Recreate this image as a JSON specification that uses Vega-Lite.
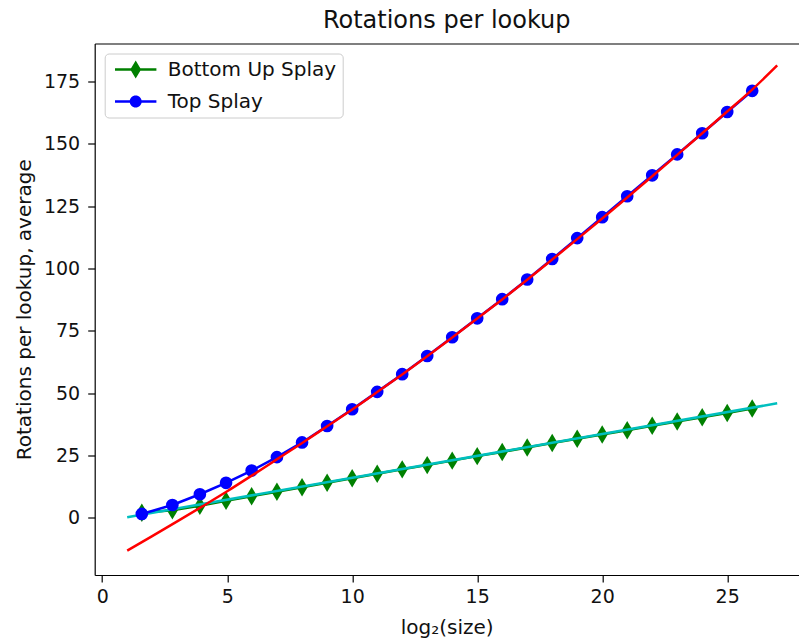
{
  "$schema": "https://vega.github.io/schema/vega-lite/v6.json",
  "autosize": "none",
  "width": 704,
  "height": 531.5,
  "padding": {"left": 94.7, "top": 43.5, "right": 0.3, "bottom": 66},
  "background": "white",
  "config": {
    "view": {"stroke": null},
    "font": "DejaVu Sans",
    "axis": {"grid": false, "domainColor": "black", "tickColor": "black", "labelColor": "#111", "titleColor": "#111", "labelFont": "DejaVu Sans", "titleFont": "DejaVu Sans", "labelFontSize": 19, "titleFontSize": 20, "titleFontWeight": "normal", "tickSize": 7, "tickWidth": 1.2, "domainWidth": 1.2}
  },
  "title": {"text": "Rotations per lookup", "fontSize": 24, "fontWeight": "normal", "font": "DejaVu Sans", "color": "#111", "offset": 11},
  "datasets": {
    "pts": [
      {"x": 1.585, "top": 1.5, "bottom": 2.0},
      {"x": 2.807, "top": 5.1, "bottom": 3.0},
      {"x": 3.907, "top": 9.4, "bottom": 4.8},
      {"x": 4.954, "top": 14.0, "bottom": 6.8},
      {"x": 5.977, "top": 18.9, "bottom": 8.6},
      {"x": 6.989, "top": 24.3, "bottom": 10.4},
      {"x": 7.994, "top": 30.2, "bottom": 12.2},
      {"x": 8.997, "top": 36.8, "bottom": 14.0},
      {"x": 9.999, "top": 43.5, "bottom": 15.8},
      {"x": 11, "top": 50.5, "bottom": 17.6},
      {"x": 12, "top": 57.6, "bottom": 19.4},
      {"x": 13, "top": 64.9, "bottom": 21.1},
      {"x": 14, "top": 72.4, "bottom": 22.9},
      {"x": 15, "top": 80.0, "bottom": 24.7},
      {"x": 16, "top": 87.7, "bottom": 26.4},
      {"x": 17, "top": 95.6, "bottom": 28.2},
      {"x": 18, "top": 103.8, "bottom": 30.0},
      {"x": 19, "top": 112.2, "bottom": 31.7},
      {"x": 20, "top": 120.6, "bottom": 33.4},
      {"x": 21, "top": 129.0, "bottom": 35.1},
      {"x": 22, "top": 137.4, "bottom": 36.9},
      {"x": 23, "top": 145.8, "bottom": 38.6},
      {"x": 24, "top": 154.3, "bottom": 40.3},
      {"x": 25, "top": 162.8, "bottom": 42.0},
      {"x": 26, "top": 171.3, "bottom": 43.8}
    ],
    "redfit": [
      {"x": 1, "y": -13.2}, {"x": 2, "y": -7.4}, {"x": 3, "y": -1.5}, {"x": 4, "y": 4.5},
      {"x": 5, "y": 10.6}, {"x": 6, "y": 17.0}, {"x": 7, "y": 23.5}, {"x": 8, "y": 30.0},
      {"x": 9, "y": 36.7}, {"x": 10, "y": 43.4}, {"x": 11, "y": 50.4}, {"x": 12, "y": 57.5},
      {"x": 13, "y": 64.8}, {"x": 14, "y": 72.3}, {"x": 15, "y": 79.9}, {"x": 16, "y": 87.6},
      {"x": 17, "y": 95.5}, {"x": 18, "y": 103.6}, {"x": 19, "y": 111.8}, {"x": 20, "y": 120.1},
      {"x": 21, "y": 128.5}, {"x": 22, "y": 137.0}, {"x": 23, "y": 145.6}, {"x": 24, "y": 154.3},
      {"x": 25, "y": 163.0}, {"x": 26, "y": 171.8}, {"x": 27, "y": 181.5}
    ],
    "cyanfit": [
      {"x": 1, "y": 0.2},
      {"x": 27, "y": 45.9}
    ],
    "legend": [
      {"x": 1, "y": 1, "series": "Bottom Up Splay"},
      {"x": 1, "y": 1, "series": "Top Splay"}
    ]
  },
  "resolve": {"axis": {"x": "independent"}},
  "layer": [
    {
      "data": {"name": "pts"},
      "mark": {"type": "line", "color": "#008000", "strokeWidth": 2.5},
      "encoding": {
        "x": {"field": "x", "type": "quantitative", "scale": {"domain": [-0.3, 27.86], "nice": false, "zero": false},
              "axis": {"orient": "bottom", "values": [0, 5, 10, 15, 20, 25], "title": "log₂(size)", "labelPadding": 5, "titlePadding": 11}},
        "y": {"field": "bottom", "type": "quantitative", "scale": {"domain": [-23.0, 190.3], "nice": false, "zero": false},
              "axis": {"values": [0, 25, 50, 75, 100, 125, 150, 175], "title": "Rotations per lookup, average", "labelPadding": 8, "titlePadding": 9}}
      }
    },
    {
      "data": {"name": "pts"},
      "mark": {"type": "point", "shape": "M0,-1L0.6,0L0,1L-0.6,0Z", "size": 340, "filled": true, "opacity": 1, "color": "#008000", "strokeWidth": 0},
      "encoding": {
        "x": {"field": "x", "type": "quantitative", "axis": {"orient": "top", "labels": false, "ticks": false, "title": null, "domainColor": "black", "domainWidth": 1.2}},
        "y": {"field": "bottom", "type": "quantitative"}
      }
    },
    {
      "data": {"name": "cyanfit"},
      "mark": {"type": "line", "color": "#00bfbf", "strokeWidth": 2.5},
      "encoding": {
        "x": {"field": "x", "type": "quantitative", "axis": null},
        "y": {"field": "y", "type": "quantitative"}
      }
    },
    {
      "data": {"name": "pts"},
      "mark": {"type": "line", "color": "#0000ff", "strokeWidth": 2.5},
      "encoding": {
        "x": {"field": "x", "type": "quantitative", "axis": null},
        "y": {"field": "top", "type": "quantitative"}
      }
    },
    {
      "data": {"name": "pts"},
      "mark": {"type": "point", "shape": "circle", "size": 160, "filled": true, "opacity": 1, "color": "#0000ff", "strokeWidth": 0},
      "encoding": {
        "x": {"field": "x", "type": "quantitative", "axis": null},
        "y": {"field": "top", "type": "quantitative"}
      }
    },
    {
      "data": {"name": "redfit"},
      "mark": {"type": "line", "color": "#ff0000", "strokeWidth": 2.5, "interpolate": "monotone"},
      "encoding": {
        "x": {"field": "x", "type": "quantitative", "axis": null},
        "y": {"field": "y", "type": "quantitative"}
      }
    },
    {
      "data": {"name": "legend"},
      "transform": [{"filter": "datum.x > 1000"}],
      "mark": {"type": "point", "filled": true, "opacity": 1},
      "encoding": {
        "x": {"field": "x", "type": "quantitative", "axis": null},
        "y": {"field": "y", "type": "quantitative"},
        "color": {"field": "series", "type": "nominal",
                  "scale": {"domain": ["Bottom Up Splay", "Top Splay"], "range": ["#008000", "#0000ff"]},
                  "legend": {"orient": "top-left", "offset": 10, "title": null, "padding": 6, "symbolSize": 324, "symbolOffset": 15, "labelOffset": 22, "labelLimit": 400, "rowPadding": 12, "symbolOpacity": 1, "symbolStrokeWidth": 0, "labelFont": "DejaVu Sans", "labelFontSize": 20, "labelColor": "#111", "strokeColor": "#cccccc", "fillColor": "rgba(255,255,255,0.8)", "cornerRadius": 4}},
        "shape": {"field": "series", "type": "nominal",
                  "scale": {"domain": ["Bottom Up Splay", "Top Splay"], "range": ["M-2.3,-0.14H2.3V0.14H-2.3Z M0,-1L0.6,0L0,1L-0.6,0Z", "M-2.3,-0.14H2.3V0.14H-2.3Z M-0.67,0A0.67,0.67 0 1,1 0.67,0A0.67,0.67 0 1,1 -0.67,0Z"]}}
      }
    }
  ]
}
